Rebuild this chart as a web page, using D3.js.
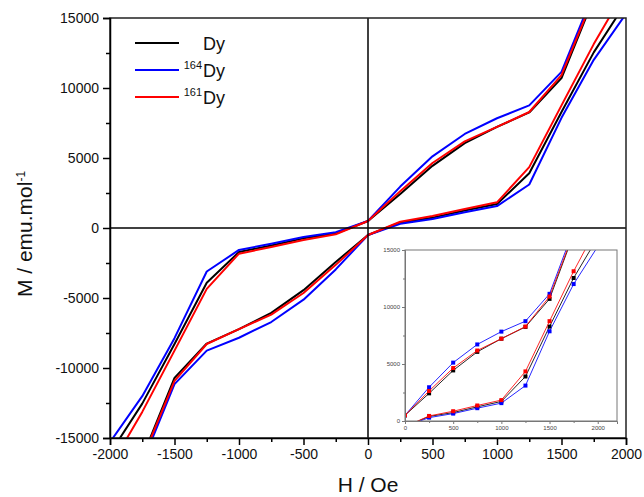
<!DOCTYPE html>
<html>
<head>
<meta charset="utf-8">
<script src="https://d3js.org/d3.v7.min.js"></script>
<style>
  body {margin:0; background:#fff;}
  text {font-family: "Liberation Sans", Arial, sans-serif;}
</style>
</head>
<body onload='init()'>
<svg width=644 height=497></svg>
<script>
    // field points (Oe), increasing branch runs left->right, decreasing branch right->left
    const field = [-2000, -1750, -1500, -1250, -1000, -750, -500, -250, 0, 250, 500, 750, 1000, 1250, 1500, 1750, 2000];

    // M (emu/mol) on the increasing-field branch
    const dyUp   = [-19500, -16400, -10710, -8254, -7219, -6065, -4438, -2426, -500, 400, 740, 1243, 1716, 3905, 8284, 12544, 16100];
    const dy164Up = [-20000, -16800, -11154, -8757, -7840, -6716, -5120, -2960, -500, 296, 650, 1124, 1568, 3107, 7870, 12012, 15300];
    const dy161Up = [-19800, -16500, -10917, -8284, -7219, -6183, -4645, -2633, -500, 444, 858, 1361, 1834, 4349, 8757, 13136, 17100];

    // M on the decreasing-field branch (same field points)
    const dyDown   = [-16100, -12544, -8284, -3905, -1716, -1243, -740, -400, 500, 2426, 4438, 6065, 7219, 8254, 10710, 16400, 19500];
    const dy164Down = [-15300, -12012, -7870, -3107, -1568, -1124, -650, -296, 500, 2960, 5120, 6716, 7840, 8757, 11154, 16800, 20000];
    const dy161Down = [-17100, -13136, -8757, -4349, -1834, -1361, -858, -444, 500, 2633, 4645, 6183, 7219, 8284, 10917, 16500, 19800];

    const xTicks = [-2000, -1500, -1000, -500, 0, 500, 1000, 1500, 2000];
    const yTicks = [-15000, -10000, -5000, 0, 5000, 10000, 15000];
    const insetXTicks = [0, 500, 1000, 1500, 2000];
    const insetYTicks = [0, 5000, 10000, 15000];

    const series = [
        {sup: "",    color: "#000000", up: dyUp,    down: dyDown},
        {sup: "164", color: "#0000ff", up: dy164Up, down: dy164Down},
        {sup: "161", color: "#ff0000", up: dy161Up, down: dy161Down}
    ];

    const plain = d => String(d);

    function init(){
        const svg = d3.select("svg");
        const left = 110, right = 626, top = 18, bottom = 438;

        const x = d3.scaleLinear().domain([-2000, 2000]).range([left, right]);
        const y = d3.scaleLinear().domain([-15000, 15000]).range([bottom, top]);

        svg.append("clipPath").attr("id", "clipMain")
            .append("rect").attr("x", left).attr("y", top)
            .attr("width", right - left).attr("height", bottom - top);

        const line = d3.line().x(d => x(d[0])).y(d => y(d[1]));
        const plot = svg.append("g").attr("clip-path", "url(#clipMain)");

        series.forEach(s => {
            const pts = field.map((h, i) => [h, s.up[i]])
                .concat(field.map((h, i) => [h, s.down[i]]).reverse());
            plot.append("path")
                .attr("d", line(pts))
                .attr("fill", "none")
                .attr("stroke", s.color)
                .attr("stroke-width", 2)
                .attr("stroke-linejoin", "round");
        });

        // zero lines
        svg.append("line").attr("x1", x(0)).attr("x2", x(0)).attr("y1", top).attr("y2", bottom)
            .attr("stroke", "#000").attr("stroke-width", 1.5);
        svg.append("line").attr("x1", left).attr("x2", right).attr("y1", y(0)).attr("y2", y(0))
            .attr("stroke", "#000").attr("stroke-width", 1.5);

        // frame
        svg.append("rect").attr("x", left).attr("y", top)
            .attr("width", right - left).attr("height", bottom - top)
            .attr("fill", "none").attr("stroke", "#222").attr("stroke-width", 1.5);

        // minor ticks
        svg.append("g").attr("transform", `translate(0,${bottom})`)
            .call(d3.axisBottom(x).tickValues(d3.range(-1750, 2000, 500)).tickSize(4).tickFormat(""))
            .call(g => g.select(".domain").remove())
            .call(g => g.selectAll("line").attr("stroke-width", 1.5));
        svg.append("g").attr("transform", `translate(${left},0)`)
            .call(d3.axisLeft(y).tickValues(d3.range(-12500, 15000, 5000)).tickSize(4).tickFormat(""))
            .call(g => g.select(".domain").remove())
            .call(g => g.selectAll("line").attr("stroke-width", 1.5));

        const xAxis = d3.axisBottom(x).tickValues(xTicks).tickSize(7).tickPadding(4).tickFormat(plain);
        const yAxis = d3.axisLeft(y).tickValues(yTicks).tickSize(7).tickPadding(4).tickFormat(plain);

        svg.append("g").attr("transform", `translate(0,${bottom})`).call(xAxis)
            .call(g => g.select(".domain").attr("stroke-width", 1.5))
            .call(g => g.selectAll("line").attr("stroke-width", 1.5))
            .call(g => g.selectAll("text").attr("font-size", 14).attr("fill", "#111")
                .attr("font-family", "Liberation Sans, Arial, sans-serif"));
        svg.append("g").attr("transform", `translate(${left},0)`).call(yAxis)
            .call(g => g.select(".domain").attr("stroke-width", 1.5))
            .call(g => g.selectAll("line").attr("stroke-width", 1.5))
            .call(g => g.selectAll("text").attr("font-size", 14).attr("fill", "#111")
                .attr("font-family", "Liberation Sans, Arial, sans-serif"));

        // axis titles
        svg.append("text").attr("x", x(0)).attr("y", 492)
            .attr("text-anchor", "middle").attr("font-size", 21).attr("fill", "#111")
            .text("H / Oe");
        const yl = svg.append("text").attr("transform", "translate(32,234) rotate(-90)")
            .attr("text-anchor", "middle").attr("font-size", 21).attr("fill", "#111");
        yl.append("tspan").text("M / emu.mol");
        yl.append("tspan").attr("baseline-shift", "super").attr("font-size", 12).text("-1");

        // legend
        const legend = svg.append("g");
        series.forEach((s, i) => {
            const ly = 43 + i * 27;
            legend.append("line").attr("x1", 135).attr("x2", 179).attr("y1", ly).attr("y2", ly)
                .attr("stroke", s.color).attr("stroke-width", 2);
            const t = legend.append("text").attr("x", 203).attr("y", ly + 7)
                .attr("font-size", 18).attr("fill", "#111");
            if (s.sup) {
                legend.append("text").attr("x", 202).attr("y", ly - 1)
                    .attr("text-anchor", "end").attr("font-size", 11).attr("fill", "#111").text(s.sup);
            }
            t.text("Dy");
        });

        // inset
        const il = 405, ir = 617, it = 250, ib = 421;
        const ix = d3.scaleLinear().domain([0, 2200]).range([il, ir]);
        const iy = d3.scaleLinear().domain([0, 15000]).range([ib, it]);

        svg.append("clipPath").attr("id", "clipInset")
            .append("rect").attr("x", il).attr("y", it)
            .attr("width", ir - il).attr("height", ib - it);

        const iline = d3.line().x(d => ix(d[0])).y(d => iy(d[1]));
        const ig = svg.append("g").attr("clip-path", "url(#clipInset)");
        series.forEach(s => {
            const upPts = field.map((h, i) => [h, s.up[i]]).filter(d => d[0] >= 0);
            const downPts = field.map((h, i) => [h, s.down[i]]).filter(d => d[0] >= 0);
            [upPts, downPts].forEach(pts => {
                ig.append("path").attr("d", iline(pts))
                    .attr("fill", "none").attr("stroke", s.color).attr("stroke-width", 1).attr("opacity", 0.85);
                ig.selectAll(null).data(pts).enter().append("rect")
                    .attr("x", d => ix(d[0]) - 2).attr("y", d => iy(d[1]) - 2)
                    .attr("width", 4).attr("height", 4).attr("fill", s.color);
            });
        });

        svg.append("rect").attr("x", il).attr("y", it)
            .attr("width", ir - il).attr("height", ib - it)
            .attr("fill", "none").attr("stroke", "#777").attr("stroke-width", 1);

        svg.append("g").attr("transform", `translate(0,${ib})`)
            .call(d3.axisBottom(ix).tickValues(d3.range(250, 2200, 500)).tickSize(2).tickFormat(""))
            .call(g => g.select(".domain").remove())
            .call(g => g.selectAll("line").attr("stroke", "#777"));
        svg.append("g").attr("transform", `translate(${il},0)`)
            .call(d3.axisLeft(iy).tickValues([2500, 7500, 12500]).tickSize(2).tickFormat(""))
            .call(g => g.select(".domain").remove())
            .call(g => g.selectAll("line").attr("stroke", "#777"));
        svg.append("g").attr("transform", `translate(0,${ib})`)
            .call(d3.axisBottom(ix).tickValues(insetXTicks).tickSize(3).tickPadding(2).tickFormat(plain))
            .call(g => g.select(".domain").attr("stroke", "#777"))
            .call(g => g.selectAll("line").attr("stroke", "#777"))
            .call(g => g.selectAll("text").attr("font-size", 6).attr("fill", "#444")
                .attr("font-family", "Liberation Sans, Arial, sans-serif"));
        svg.append("g").attr("transform", `translate(${il},0)`)
            .call(d3.axisLeft(iy).tickValues(insetYTicks).tickSize(3).tickPadding(2).tickFormat(plain))
            .call(g => g.select(".domain").attr("stroke", "#777"))
            .call(g => g.selectAll("line").attr("stroke", "#777"))
            .call(g => g.selectAll("text").attr("font-size", 6).attr("fill", "#444")
                .attr("font-family", "Liberation Sans, Arial, sans-serif"));
    }
</script>
</body>
</html>
